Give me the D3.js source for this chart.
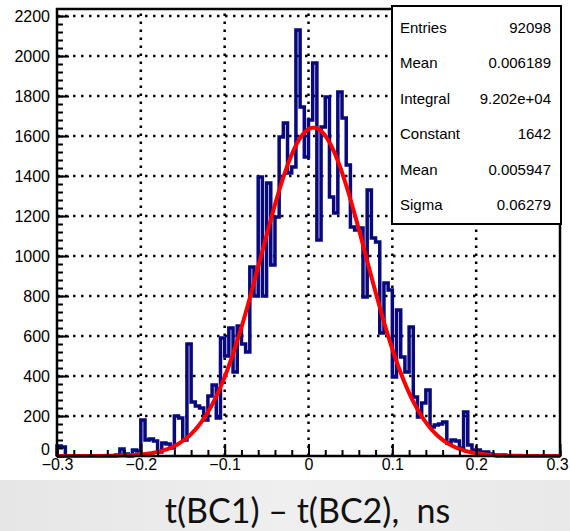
<!DOCTYPE html>
<html>
<head>
<meta charset="utf-8">
<script src="https://cdn.jsdelivr.net/npm/d3@7"></script>
<style>
  body { margin: 0; background: #fff; }
  svg { display: block; }
  .axis text { font-family: "Liberation Sans", Arial, sans-serif; font-size: 16px; fill: #000; }
  .axis path { display: none; }
  .axis line { stroke: #000; stroke-width: 2; }
</style>
</head>
<body>
<div id="chart-area"></div>
<script>
// histogram bins, width 0.005 from -0.3 to 0.3 (counts)
var binStart = -0.3;
var binWidth = 0.005;
var counts = [
  50, 45, 0, 0, 0, 0, 0, 0, 0, 0,
  0, 0, 0, 0, 5, 35, 10, 0, 30, 25,
  180, 80, 85, 75, 20, 65, 60, 40, 200, 190,
  80, 560, 270, 250, 240, 180, 300, 355, 190, 590,
  500, 640, 420, 650, 560, 520, 945, 800, 1395, 800,
  1365, 955, 1195, 1595, 1665, 1415, 1445, 2130, 1745, 1495,
  1680, 1965, 1080, 1645, 1795, 1295, 1215, 1820, 1690, 1455,
  1145, 1130, 1140, 795, 1330, 1090, 1070, 615, 865, 830,
  395, 730, 495, 420, 645, 295, 195, 265, 330, 145,
  155, 160, 170, 65, 80, 75, 40, 220, 55, 30,
  30, 20, 20, 10, 5, 0, 5, 0, 0, 0,
  0, 0, 0, 0, 0, 0, 0, 0, 0, 0
];

// gaussian fit parameters from the stats box
var fitConstant = 1642;
var fitMean = 0.005947;
var fitSigma = 0.06279;

var xTicks = [-0.3, -0.2, -0.1, 0, 0.1, 0.2, 0.3];
var yTicks = [0, 200, 400, 600, 800, 1000, 1200, 1400, 1600, 1800, 2000, 2200];

var statLabels = ["Entries", "Mean", "Integral", "Constant", "Mean", "Sigma"];
var statValues = ["92098", "0.006189", "9.202e+04", "1642", "0.005947", "0.06279"];

var xTitle = "t(BC1) \u2013 t(BC2),  ns";

var W = 570, H = 531;
var pLeft = 57, pRight = 560, pTop = 9, pBottom = 456;

var svg = d3.select('#chart-area')
    .append('svg')
        .attr('width', W)
        .attr('height', H);

// slide background below the plot
var grad = svg.append("defs").append("linearGradient")
    .attr("id", "bg").attr("x1", 0).attr("x2", 1).attr("y1", 0).attr("y2", 0);
grad.append("stop").attr("offset", "0%").attr("stop-color", "#e6e6e6");
grad.append("stop").attr("offset", "50%").attr("stop-color", "#efefef");
grad.append("stop").attr("offset", "100%").attr("stop-color", "#e9e9e9");
svg.append("rect").attr("x", 0).attr("y", 480).attr("width", W).attr("height", H - 480)
    .attr("fill", "url(#bg)");

var x = d3.scaleLinear().domain([-0.3, 0.3]).range([pLeft, pRight]);
var y = d3.scaleLinear().domain([0, 2235]).range([pBottom, pTop]);

// dotted grid
var grid = svg.append("g").attr("class", "grid")
    .attr("stroke", "#000").attr("stroke-width", 2.5).attr("stroke-dasharray", "2.5,5.5");
grid.selectAll("line.v")
    .data(xTicks.filter(function(d) { return d > -0.3 && d < 0.3; }))
    .enter().append("line")
        .attr("x1", function(d) { return x(d); })
        .attr("x2", function(d) { return x(d); })
        .attr("y1", pBottom).attr("y2", pTop);
grid.selectAll("line.h")
    .data(yTicks.filter(function(d) { return d > 0; }))
    .enter().append("line")
        .attr("y1", function(d) { return y(d); })
        .attr("y2", function(d) { return y(d); })
        .attr("x1", pLeft).attr("x2", pRight);

// histogram outline
var steps = "";
counts.forEach(function(c, i) {
    var x0 = x(binStart + i * binWidth), x1 = x(binStart + (i + 1) * binWidth);
    if (i === 0) steps += "M" + x0 + "," + y(0) + "V" + y(c);
    else steps += "V" + y(c);
    steps += "H" + x1;
});
steps += "V" + y(0);
svg.append("path")
    .attr("d", steps)
    .attr("fill", "none")
    .attr("stroke", "#08087f")
    .attr("stroke-width", 3.5)
    .attr("stroke-linejoin", "miter");

// fit curve
var fitX = d3.range(0, 241).map(function(i) { return -0.3 + i * 0.0025; });
var fitLine = d3.line()
    .x(function(d) { return x(d); })
    .y(function(d) { return y(fitConstant * Math.exp(-0.5 * Math.pow((d - fitMean) / fitSigma, 2))); });
svg.append("path")
    .datum(fitX)
    .attr("d", fitLine)
    .attr("fill", "none")
    .attr("stroke", "#ff0000")
    .attr("stroke-width", 4);

// axes
var fmtX = function(d) { return d === 0 ? "0" : d3.format(".1f")(d); };
var minorX = d3.range(-15, 16).map(function(i) { return i * 0.02; });
var minorY = d3.range(0, 56).map(function(i) { return i * 40; });

svg.append("g").attr("class", "axis")
    .attr("transform", "translate(0," + pBottom + ")")
    .call(d3.axisBottom(x).tickValues(minorX).tickSize(-6).tickFormat(""));
svg.append("g").attr("class", "axis")
    .attr("transform", "translate(0," + pBottom + ")")
    .call(d3.axisBottom(x).tickValues(xTicks).tickSize(-12).tickPadding(3).tickFormat(fmtX))
    .selectAll("text")
        .attr("dx", function(d) { return d === 0.3 ? -3 : 0; });

svg.append("g").attr("class", "axis")
    .attr("transform", "translate(" + pLeft + ",0)")
    .call(d3.axisLeft(y).tickValues(minorY).tickSize(-6).tickFormat(""));
svg.append("g").attr("class", "axis")
    .attr("transform", "translate(" + pLeft + ",0)")
    .call(d3.axisLeft(y).tickValues(yTicks).tickSize(-12).tickPadding(7).tickFormat(d3.format("d")))
    .selectAll("text")
        .attr("dy", function(d) { return d === 0 ? "-0.1em" : "0.32em"; });

// frame
svg.append("rect")
    .attr("x", pLeft).attr("y", pTop)
    .attr("width", pRight - pLeft).attr("height", pBottom - pTop)
    .attr("fill", "none").attr("stroke", "#000").attr("stroke-width", 2.5);

// stats box
var box = svg.append("g").attr("transform", "translate(392,6)");
box.append("rect")
    .attr("width", 169).attr("height", 218)
    .attr("fill", "#fff").attr("stroke", "#000").attr("stroke-width", 2);
box.selectAll("text.lab")
    .data(statLabels)
    .enter().append("text")
        .attr("x", 8)
        .attr("y", function(d, i) { return 22 + i * 35.4 + 5; })
        .attr("font-family", "Liberation Sans, Arial, sans-serif")
        .attr("font-size", "15px")
        .attr("fill", "#000")
        .text(function(d) { return d; });
box.selectAll("text.val")
    .data(statValues)
    .enter().append("text")
        .attr("x", 159)
        .attr("y", function(d, i) { return 22 + i * 35.4 + 5; })
        .attr("text-anchor", "end")
        .attr("font-family", "Liberation Sans, Arial, sans-serif")
        .attr("font-size", "15px")
        .attr("fill", "#000")
        .text(function(d) { return d; });

// x title
svg.append("text")
    .attr("x", 307.5)
    .attr("y", 523)
    .attr("text-anchor", "middle")
    .attr("font-family", "Lato, 'Open Sans', sans-serif")
    .attr("font-size", "34px")
    .attr("fill", "#111")
    .style("white-space", "pre")
    .text(xTitle);
</script>
</body>
</html>
